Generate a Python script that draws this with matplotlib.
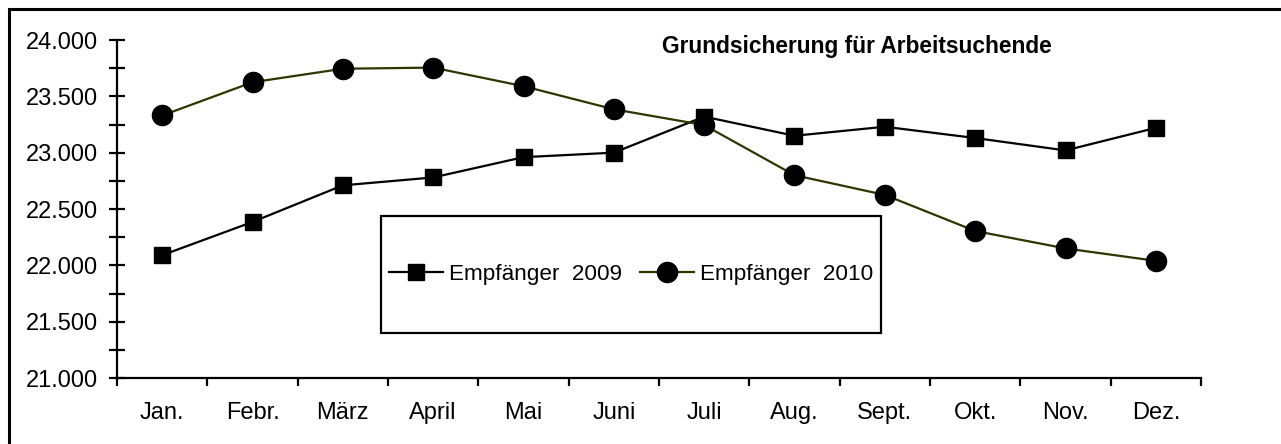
"""Grundsicherung fuer Arbeitsuchende: Empfaenger 2009 vs. 2010."""

import matplotlib
matplotlib.use("Agg")
import matplotlib.pyplot as plt
from matplotlib.patches import Rectangle
from matplotlib.ticker import FixedLocator, FuncFormatter, MultipleLocator
import numpy as np

plt.rcParams["font.family"] = ["Liberation Sans", "DejaVu Sans"]

months = ["Jan.", "Febr.", "März", "April", "Mai", "Juni",
          "Juli", "Aug.", "Sept.", "Okt.", "Nov.", "Dez."]
empf_2009 = [22090, 22385, 22710, 22780, 22960, 23000,
             23320, 23150, 23230, 23130, 23020, 23220]
empf_2010 = [23330, 23625, 23745, 23755, 23590, 23385,
             23245, 22800, 22625, 22305, 22150, 22040]
title = "Grundsicherung für Arbeitsuchende"
labels = ["Empfänger  2009", "Empfänger  2010"]

W, H = 1281, 444
fig = plt.figure(figsize=(W / 100, H / 100), dpi=100)
ax = fig.add_axes([117 / W, 1 - 378 / H, (1201 - 117) / W, (378 - 40) / H])

x = np.arange(len(months))
ax.plot(x, empf_2009, color="black", lw=1.6, marker="s", ms=11,
        mfc="black", mec="black", label=labels[0], zorder=3)
ax.plot(x, empf_2010, color="#333300", lw=1.6, marker="o", ms=14.5,
        mfc="black", mec="black", label=labels[1], zorder=4)

ax.set_xlim(-0.5, len(months) - 0.5)
ax.set_ylim(21000, 24000)

for s in ("top", "right"):
    ax.spines[s].set_visible(False)
for s in ("left", "bottom"):
    ax.spines[s].set_linewidth(1.6)

ax.yaxis.set_major_locator(MultipleLocator(500))
ax.yaxis.set_minor_locator(MultipleLocator(250))
ax.yaxis.set_major_formatter(FuncFormatter(lambda v, _: f"{v:,.0f}".replace(",", ".")))
ax.tick_params(axis="y", which="both", direction="inout", length=11, width=1.6,
               labelsize=17, pad=8)

ax.set_xticks(x, months)
ax.xaxis.set_minor_locator(FixedLocator(np.arange(len(months) + 1) - 0.5))
ax.tick_params(axis="x", which="major", length=0, labelsize=17, pad=17)
ax.tick_params(axis="x", which="minor", direction="out", length=6, width=1.6)

fig.text(857 / W, 1 - 47 / H, title, ha="center", va="center",
         fontsize=16.4, fontweight="bold")

leg = fig.legend(loc="center", bbox_to_anchor=(631 / W, 1 - 274 / H), ncol=2,
                 frameon=False, fontsize=16.2, handlelength=2.4,
                 handletextpad=0.25, columnspacing=0.8)
fig.add_artist(Rectangle((381 / W, 1 - 333 / H), 500 / W, 117 / H,
                         transform=fig.transFigure, fill=False,
                         edgecolor="black", lw=1.6))

# outer chart frame, cut off at the right and bottom like the source
fig.add_artist(Rectangle((9 / W, -0.05), 1.1, 1 - 9 / H + 0.05,
                         transform=fig.transFigure, fill=False,
                         edgecolor="black", lw=2.2, clip_on=False))

fig.savefig("out.png", dpi=100)
